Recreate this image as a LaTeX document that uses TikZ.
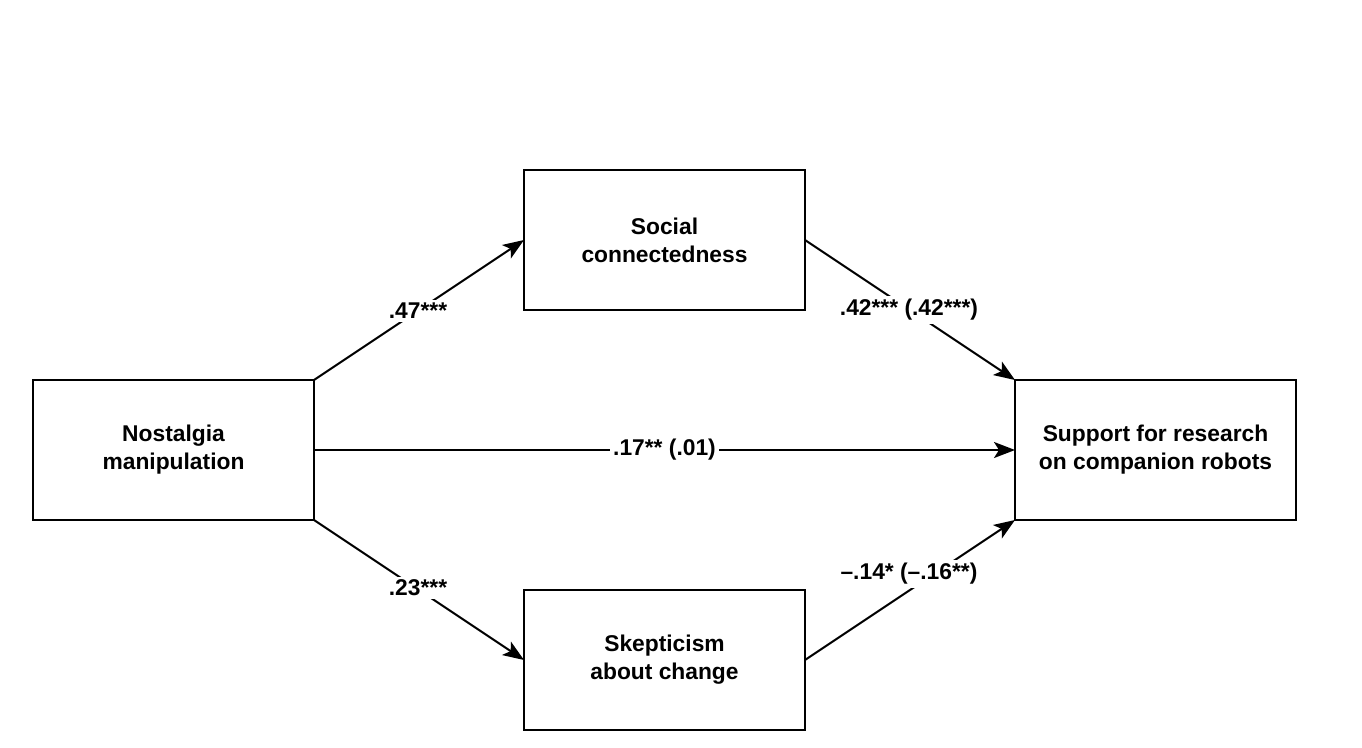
\documentclass[tikz,border=0pt]{standalone}
\usepackage{fontspec}
\setmainfont{Liberation Sans}
\usetikzlibrary{arrows.meta}
\tikzset{
  box/.style={draw, line width=2pt, minimum width=281pt, minimum height=140pt, inner sep=0pt, outer sep=0pt, align=center, font=\fontsize{22.8}{28}\selectfont\bfseries},
  arr/.style={line width=2pt, -{Stealth[length=21pt,width=16pt,inset=5pt]}},
  lab/.style={fill=white, inner sep=3pt, font=\fontsize{22.8}{26}\selectfont\bfseries}
}
\begin{document}
\begin{tikzpicture}[x=1pt,y=-1pt]
\useasboundingbox (0,0) rectangle (1362,747);
\node[box] (nost) at (173.5,450) {Nostalgia\\manipulation};
\node[box] (soc) at (664.5,240) {Social\\connectedness};
\node[box] (skep) at (664.5,660) {Skepticism\\about change};
\node[box] (sup) at (1155.5,450) {Support for research\\on companion robots};
\draw[arr] (nost.north east) -- (soc.west);
\draw[arr] (soc.east) -- (sup.north west);
\draw[arr] (nost.east) -- (sup.west);
\draw[arr] (nost.south east) -- (skep.west);
\draw[arr] (skep.east) -- (sup.south west);
\node[lab] (l1) at (418,311) {.47***};
\node[lab] (l2) at (909,310) {.42*** (.42***)};
\node[lab] (l3) at (664.5,450) {.17** (.01)};
\node[lab] (l4) at (418,588) {.23***};
\node[lab] (l5) at (909,574) {–.14* (–.16**)};
\end{tikzpicture}
\end{document}
